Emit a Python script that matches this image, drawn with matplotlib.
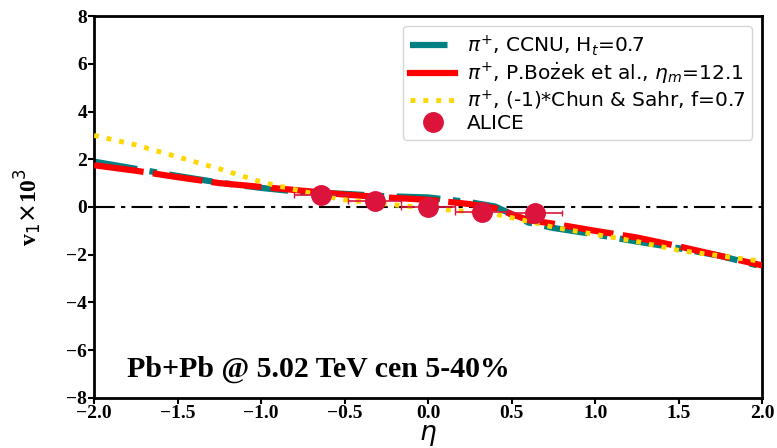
import numpy as np
import matplotlib
matplotlib.use("Agg")
import matplotlib.pyplot as plt
from matplotlib.lines import Line2D

# model curves
eta = [-2.0, -1.75, -1.5, -1.25, -1.0, -0.75, -0.5, -0.25, 0.0, 0.25, 0.4,
       0.5, 0.6, 0.75, 1.0, 1.25, 1.5, 1.75, 2.0]
ccnu = [1.9, 1.6, 1.3, 1.02, 0.8, 0.62, 0.55, 0.45, 0.4, 0.2, 0.02,
        -0.3, -0.65, -0.88, -1.15, -1.45, -1.73, -2.05, -2.5]
bozek = [1.75, 1.52, 1.25, 1.0, 0.84, 0.68, 0.52, 0.4, 0.3, 0.12, -0.05,
         -0.3, -0.55, -0.7, -1.0, -1.28, -1.65, -2.05, -2.45]
chun = [3.0, 2.6, 2.1, 1.6, 1.05, 0.65, 0.3, 0.12, -0.05, -0.2, -0.3,
        -0.45, -0.6, -0.85, -1.15, -1.45, -1.82, -2.05, -2.28]

# ALICE data
alice_eta = [-0.64, -0.32, 0.0, 0.32, 0.64]
alice_v1 = [0.49, 0.24, -0.01, -0.22, -0.26]
alice_xerr = [0.16, 0.16, 0.16, 0.16, 0.16]
alice_yerr = [0.05, 0.05, 0.05, 0.05, 0.05]

fig = plt.figure(figsize=(7.77, 4.48), dpi=100)
ax = fig.add_axes([0.121, 0.112, 0.860, 0.852])

ax.axhline(0, color="black", ls="-.", lw=1.5, dashes=(10, 3, 2, 3))
ax.plot(eta, ccnu, color="teal", lw=4.5, dashes=(7, 2, 1.2, 2), dash_capstyle="butt")
ax.plot(eta, bozek, color="red", lw=4.5, dashes=(8, 1.5), zorder=3)
ax.plot(eta, chun, color="gold", lw=3.5, ls=":", zorder=4)
ax.errorbar(alice_eta, alice_v1, xerr=alice_xerr, yerr=alice_yerr, fmt="o",
            color="crimson", ms=14, elinewidth=1.2, capsize=2, zorder=5)

handles = [
    Line2D([], [], color="teal", lw=4.5, dashes=(6, 2, 1.2, 2)),
    Line2D([], [], color="red", lw=4.5),
    Line2D([], [], color="gold", lw=3.5, ls=":"),
    Line2D([], [], color="crimson", marker="o", ms=14, ls="none"),
]
labels = [r"$\pi^{+}$, CCNU, H$_t$=0.7",
          r"$\pi^{+}$, P.Bo$\dot{\rm z}$ek et al., $\eta_m$=12.1",
          r"$\pi^{+}$, (-1)*Chun & Sahr, f=0.7",
          "ALICE"]
ax.legend(handles, labels, loc="upper right", fontsize=14.5, handlelength=2.2,
          labelspacing=0.12, handletextpad=0.6, borderaxespad=0.5,
          borderpad=0.35)

ax.text(-1.8, -6.8, "Pb+Pb @ 5.02 TeV cen 5-40%", family="Liberation Serif",
        fontweight="bold", fontsize=21.5, va="center")

ax.set_xlim(-2, 2)
ax.set_ylim(-8, 8)
ax.set_xticks(np.arange(-2, 2.01, 0.5))
ax.set_yticks(np.arange(-8, 8.1, 2))
for lab in ax.get_xticklabels() + ax.get_yticklabels():
    lab.set_family("Liberation Serif")
    lab.set_fontweight("bold")
    lab.set_fontsize(14)
ax.tick_params(length=4, width=1.5, pad=1)
for s in ax.spines.values():
    s.set_linewidth(2)

ax.set_ylabel(r"v$_1$$\times$10$^3$", family="Liberation Serif", fontweight="bold",
              fontsize=17, labelpad=16)
ax.set_xlabel(r"$\eta$", fontsize=19, labelpad=0)

fig.savefig("out.png", dpi=100)
